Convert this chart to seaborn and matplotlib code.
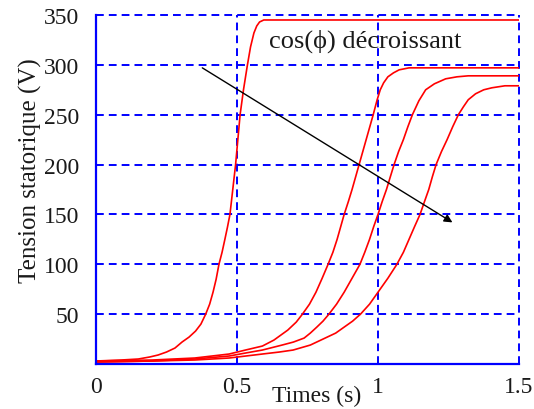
import matplotlib
matplotlib.use("Agg")
import matplotlib.pyplot as plt
import seaborn as sns
import pandas as pd

# ---- data ----
t1 = [0, 0.09, 0.15, 0.19, 0.22, 0.25, 0.28, 0.305, 0.33, 0.353, 0.372, 0.389, 0.403, 0.415, 0.426,
      0.436, 0.447, 0.457, 0.466, 0.475, 0.485, 0.495, 0.503, 0.511, 0.523, 0.537, 0.548, 0.56,
      0.57, 0.58, 0.595, 1.5]
v1 = [3, 4, 5, 7, 9, 12, 16, 22, 27, 33, 40, 50, 60, 72, 85,
      100, 112, 125, 137, 150, 175, 200, 225, 250, 275, 300, 318, 332,
      339, 343, 345, 345]

t2 = [0, 0.2, 0.35, 0.472, 0.53, 0.59, 0.631, 0.68, 0.71, 0.732, 0.757, 0.78, 0.802, 0.823, 0.84,
      0.855, 0.868, 0.88, 0.895, 0.908, 0.921, 0.933, 0.946, 0.958, 0.971, 0.983, 0.997, 1.008,
      1.02, 1.035, 1.055, 1.075, 1.11, 1.5]
v2 = [3, 4, 6, 10, 14, 18, 24, 34, 42, 50, 60, 72, 86, 100, 112,
      125, 138, 150, 163, 175, 188, 200, 213, 225, 238, 250, 265, 275,
      282, 288, 292, 295, 297, 297]

t3 = [0, 0.2, 0.35, 0.472, 0.53, 0.59, 0.66, 0.70, 0.738, 0.76, 0.783, 0.805, 0.826, 0.853, 0.88,
      0.908, 0.936, 0.953, 0.97, 0.985, 1.0, 1.015, 1.03, 1.044, 1.057, 1.073, 1.09, 1.106, 1.122,
      1.145, 1.169, 1.2, 1.24, 1.28, 1.32, 1.5]
v3 = [2, 3, 5, 8, 11, 14, 19, 22, 26, 31, 37, 43, 50, 60, 72,
      86, 100, 112, 125, 138, 150, 163, 175, 188, 200, 213, 225, 238, 250,
      264, 275, 281, 286, 288, 289, 289]

t4 = [0, 0.2, 0.35, 0.472, 0.59, 0.65, 0.699, 0.76, 0.82, 0.85, 0.88, 0.91, 0.938, 0.97, 1.0,
      1.035, 1.067, 1.09, 1.11, 1.13, 1.149, 1.165, 1.18, 1.193, 1.206, 1.225, 1.245, 1.265, 1.285,
      1.303, 1.32, 1.346, 1.375, 1.404, 1.45, 1.5]
v4 = [2, 3, 4, 6, 10, 12, 14, 19, 27, 31, 37, 43, 50, 60, 72,
      86, 100, 112, 125, 138, 150, 163, 175, 188, 200, 213, 225, 238, 250,
      258, 265, 271, 275, 277, 279, 279]

x_ticks = [0, 0.5, 1, 1.5]
x_tick_labels = ["0", "0.5", "1", "1.5"]
y_ticks = [50, 100, 150, 200, 250, 300, 350]
y_tick_labels = ["50", "100", "150", "200", "250", "300", "350"]

arrow_start = (0.377, 297)
arrow_end = (1.264, 142)
annot_text = "cos(ϕ) décroissant"
annot_pos = (0.613, 318)

x_label = "Times (s)"
y_label = "Tension statorique (V)"

# ---- build long table ----
frames = []
for i, (t, v) in enumerate([(t1, v1), (t2, v2), (t3, v3), (t4, v4)]):
    frames.append(pd.DataFrame({"t": t, "v": v, "curve": f"c{i+1}"}))
df = pd.concat(frames, ignore_index=True)

sns.set_style("white")
plt.rcParams["font.family"] = ["Liberation Serif", "DejaVu Serif"]

fig = plt.figure(figsize=(5.34, 4.10), dpi=100)
ax = fig.add_axes([96/534, 1-365/410, 423/534, 349/410])

sns.lineplot(data=df, x="t", y="v", hue="curve", units="curve", estimator=None,
             sort=False, palette=["#ff0000"]*4, linewidth=1.2, legend=False, ax=ax)

ax.set_xlim(0, 1.5)
ax.set_ylim(0, 350)
ax.set_xticks(x_ticks)
ax.set_xticklabels(x_tick_labels)
ax.set_yticks(y_ticks)
ax.set_yticklabels(y_tick_labels)
ax.tick_params(axis="both", length=0, labelsize=17, colors="#1a1a1a")
ax.tick_params(axis="x", pad=9)
ax.tick_params(axis="y", pad=12)

ax.grid(True, color="#0000ff", linestyle=(0, (4, 2.6)), linewidth=1.4)
for gl in ax.get_xgridlines() + ax.get_ygridlines():
    gl.set_clip_on(False)

for side in ["top", "right"]:
    ax.spines[side].set_visible(False)
for side in ["left", "bottom"]:
    ax.spines[side].set_color("#0000ff")
    ax.spines[side].set_linewidth(1.6)
    ax.spines[side].set_zorder(3)

ax.set_xlabel(x_label, fontsize=17, color="#1a1a1a")
ax.set_ylabel(y_label, fontsize=18, color="#1a1a1a")
ax.xaxis.set_label_coords(0.522, -0.061)
ax.yaxis.set_label_coords(-0.127, 0.557)

ax.annotate("", xy=arrow_end, xytext=arrow_start,
            arrowprops=dict(arrowstyle="-|>", color="black", lw=1.0, mutation_scale=12,
                            shrinkA=0, shrinkB=0))
ax.text(annot_pos[0], annot_pos[1], annot_text, fontsize=19,
        color="#1a1a1a", va="baseline", ha="left")

fig.savefig("out.png", dpi=100)
